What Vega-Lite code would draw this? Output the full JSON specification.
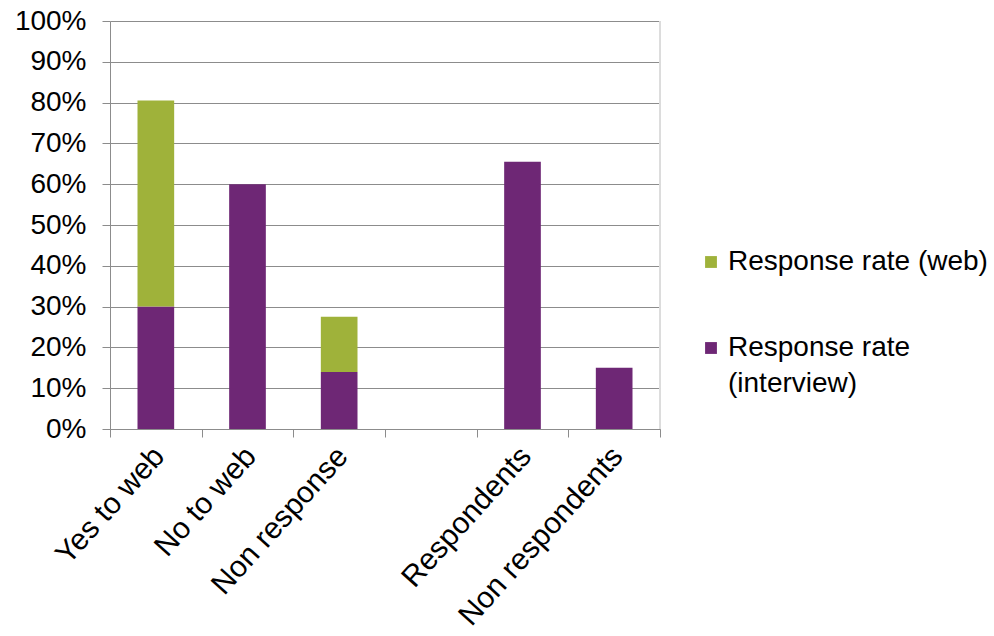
{
  "$schema": "https://vega.github.io/schema/vega-lite/v6.json",
  "autosize": "none",
  "width": 550,
  "height": 408,
  "padding": {"left": 110, "top": 21, "right": 334, "bottom": 207},
  "background": "white",
  "config": {
    "font": "Liberation Sans",
    "view": {"stroke": null},
    "style": {"guide-label": {"lineHeight": 36}}
  },
  "data": {
    "values": [
      {"category": "Yes to web", "type": "Response rate (interview)", "value": 0.30},
      {"category": "Yes to web", "type": "Response rate (web)", "value": 0.505},
      {"category": "No to web", "type": "Response rate (interview)", "value": 0.60},
      {"category": "Non response", "type": "Response rate (interview)", "value": 0.14},
      {"category": "Non response", "type": "Response rate (web)", "value": 0.135},
      {"category": "Respondents", "type": "Response rate (interview)", "value": 0.655},
      {"category": "Non respondents", "type": "Response rate (interview)", "value": 0.15}
    ]
  },
  "layer": [
    {
      "mark": {"type": "bar", "width": {"band": 0.4}},
      "encoding": {
        "x": {
          "field": "category",
          "type": "nominal",
          "sort": null,
          "scale": {
            "domain": ["Yes to web", "No to web", "Non response", " ", "Respondents", "Non respondents"],
            "paddingInner": 0,
            "paddingOuter": 0
          },
          "axis": {
            "title": null,
            "labelAngle": -48,
            "labelFontSize": 30,
            "labelColor": "#000000",
            "labelPadding": 14,
            "labelOffset": 3,
            "labelLimit": 400,
            "tickBand": "extent",
            "tickSize": 8,
            "tickColor": "#8c8c8c",
            "domainColor": "#8c8c8c",
            "grid": false
          }
        },
        "y": {
          "field": "value",
          "type": "quantitative",
          "stack": "zero",
          "scale": {"domain": [0, 1], "nice": false},
          "axis": {
            "title": null,
            "format": ".0%",
            "values": [0, 0.1, 0.2, 0.3, 0.4, 0.5, 0.6, 0.7, 0.8, 0.9, 1],
            "labelOverlap": false,
            "labelFontSize": 28,
            "labelColor": "#000000",
            "labelPadding": 16,
            "tickSize": 8,
            "tickColor": "#8c8c8c",
            "domainColor": "#8c8c8c",
            "gridColor": "#8c8c8c",
            "gridOpacity": 1
          }
        },
        "color": {
          "field": "type",
          "type": "nominal",
          "scale": {
            "domain": ["Response rate (web)", "Response rate (interview)"],
            "range": ["#9fb23a", "#6e2775"]
          },
          "legend": {
            "title": null,
            "orient": "none",
            "legendX": 587,
            "legendY": 227,
            "symbolType": "square",
            "symbolSize": 140,
            "symbolStrokeWidth": 0,
            "labelFontSize": 28,
            "labelColor": "#000000",
            "labelLimit": 400,
            "labelOffset": 3,
            "rowPadding": 58,
            "labelExpr": "datum.label == 'Response rate (interview)' ? ['Response rate', '(interview)'] : datum.label"
          }
        },
        "order": {"field": "type", "sort": "ascending"}
      }
    },
    {
      "mark": {"type": "rule", "color": "#dcdcdc"},
      "encoding": {
        "x": {"datum": "Non respondents", "type": "nominal", "bandPosition": 1},
        "y": {"datum": 0, "type": "quantitative"},
        "y2": {"datum": 1}
      }
    }
  ]
}
